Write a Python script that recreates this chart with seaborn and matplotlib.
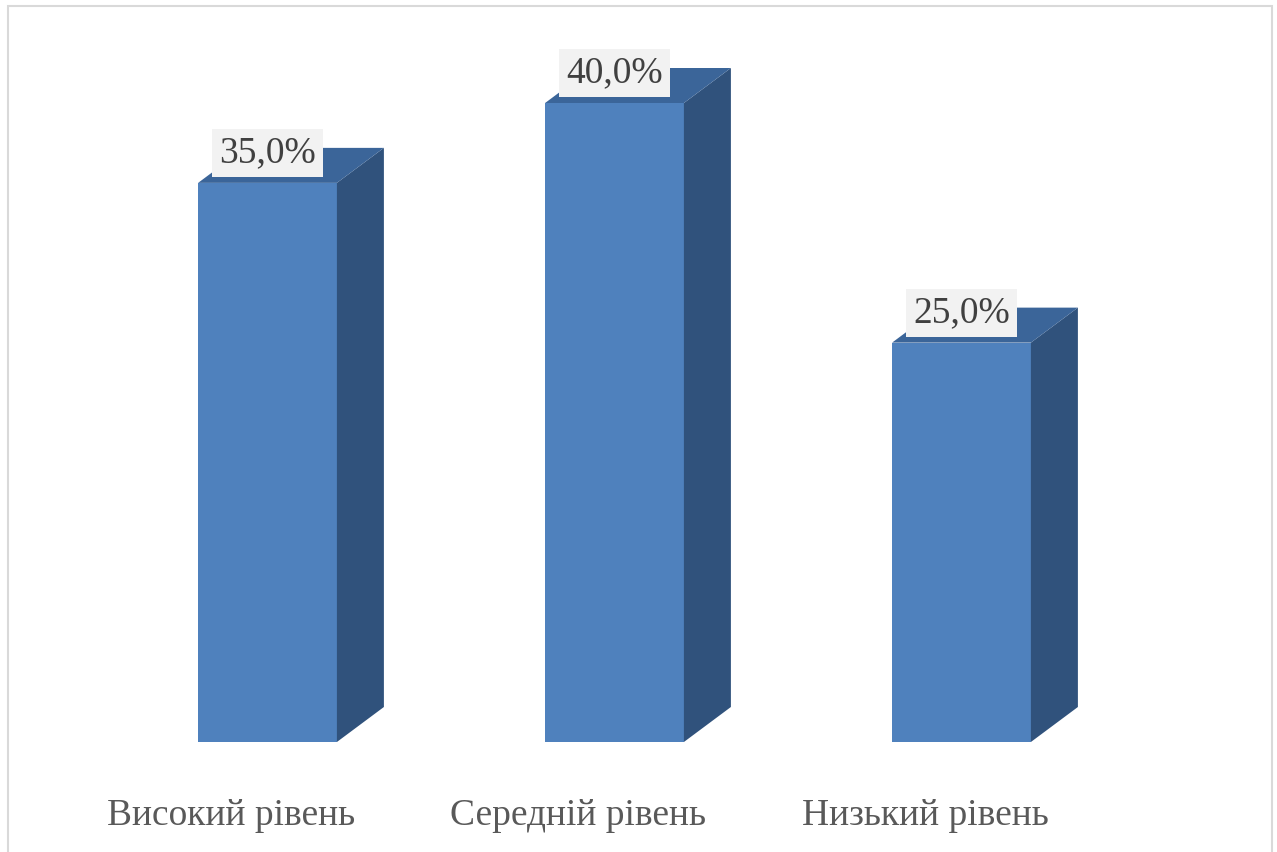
import matplotlib
matplotlib.use("Agg")
import matplotlib.pyplot as plt
from matplotlib.patches import Polygon, Rectangle
from matplotlib.transforms import ScaledTranslation
import seaborn as sns

categories = ["Високий рівень", "Середній рівень", "Низький рівень"]
values = [35.0, 40.0, 25.0]
value_labels = ["35,0%", "40,0%", "25,0%"]

FRONT = "#4f81bd"
TOP = "#3b6599"
SIDE = "#30527c"

sns.set_theme(style="white")
plt.rcParams["font.family"] = ["Liberation Serif", "DejaVu Serif"]

W, H = 1277, 852
fig = plt.figure(figsize=(W / 100, H / 100), dpi=100)
fig.patch.set_facecolor("white")
ax = fig.add_axes([0, 110 / H, 1, 1 - 110 / H])

sns.barplot(x=categories, y=values, color=FRONT, saturation=1, width=0.4,
            edgecolor="none", ax=ax)

px_per_x = 347.0
px_per_y = 15.975
ax.set_xlim(-267.5 / px_per_x, (W - 267.5) / px_per_x)
ax.set_ylim(0, 742 / px_per_y)

dx = 47 / px_per_x
dy = 35 / px_per_y
for p, lab in zip(list(ax.patches), value_labels):
    x0 = p.get_x()
    w = p.get_width()
    h = p.get_height()
    x1 = x0 + w
    side = Polygon([(x1, 0), (x1 + dx, dy), (x1 + dx, h + dy), (x1, h)],
                   closed=True, facecolor=SIDE, edgecolor="none")
    top = Polygon([(x0, h), (x0 + dx, h + dy), (x1 + dx, h + dy), (x1, h)],
                  closed=True, facecolor=TOP, edgecolor="none")
    ax.add_patch(side)
    ax.add_patch(top)
    ax.text(x0 + w / 2, h + 30 / px_per_y, lab, ha="center", va="center",
            fontsize=27, color="#404040",
            bbox=dict(boxstyle="square,pad=0.18", facecolor="#f2f2f2", edgecolor="none"))

for s in ax.spines.values():
    s.set_visible(False)
ax.set_yticks([])
ax.tick_params(axis="x", length=0, pad=41, labelsize=27, labelcolor="#595959")
ax.set_xlabel("")
ax.set_ylabel("")
shift = ScaledTranslation(-36 / 100, 0, fig.dpi_scale_trans)
for t in ax.get_xticklabels():
    t.set_transform(t.get_transform() + shift)

fig.add_artist(Rectangle((7.5 / W, -0.05), (1272 - 7.5) / W, (H - 5.5) / H + 0.05,
                         transform=fig.transFigure, fill=False,
                         edgecolor="#d9d9d9", linewidth=1.5))

fig.savefig("out.png", dpi=100)
